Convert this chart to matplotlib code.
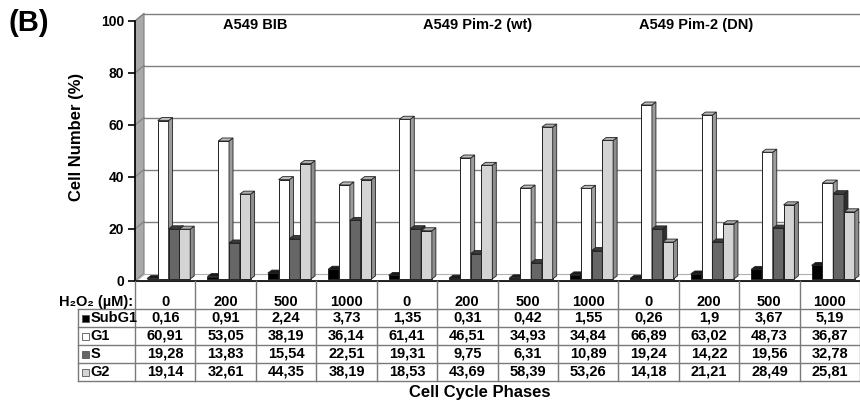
import matplotlib
matplotlib.use('Agg')
import matplotlib.pyplot as plt
from matplotlib.patches import Polygon, Rectangle

plt.rcParams['font.family'] = ['Liberation Sans', 'DejaVu Sans']
plt.rcParams['font.weight'] = 'bold'

# data
groups = ['A549 BIB', 'A549 Pim-2 (wt)', 'A549 Pim-2 (DN)']
doses = ['0', '200', '500', '1000', '0', '200', '500', '1000', '0', '200', '500', '1000']
phases = ['SubG1', 'G1', 'S', 'G2']
subg1 = [0.16, 0.91, 2.24, 3.73, 1.35, 0.31, 0.42, 1.55, 0.26, 1.9, 3.67, 5.19]
g1 = [60.91, 53.05, 38.19, 36.14, 61.41, 46.51, 34.93, 34.84, 66.89, 63.02, 48.73, 36.87]
s_phase = [19.28, 13.83, 15.54, 22.51, 19.31, 9.75, 6.31, 10.89, 19.24, 14.22, 19.56, 32.78]
g2 = [19.14, 32.61, 44.35, 38.19, 18.53, 43.69, 58.39, 53.26, 14.18, 21.21, 28.49, 25.81]
series = [subg1, g1, s_phase, g2]

front = ['#000000', '#ffffff', '#666666', '#d4d4d4']
side = ['#000000', '#9c9c9c', '#2e2e2e', '#8e8e8e']
top = ['#1a1a1a', '#bdbdbd', '#3c3c3c', '#adadad']

W, H = 860, 403
fig = plt.figure(figsize=(W / 100, H / 100), dpi=100)

x0, x1 = 135, 860      # plot area in pixels
y0, y1 = 281, 21       # value 0 and 100
ncat = len(doses)
ax = fig.add_axes([x0 / W, (H - y0) / H, (x1 - x0) / W, (y0 - y1) / H])
ax.set_xlim(0, ncat)
ax.set_ylim(0, 100)
pxx = (x1 - x0) / ncat   # pixels per category
pxy = (y0 - y1) / 100    # pixels per percent

# 3D wall depth and bar depth in data units
wdx, wdy = 9 / pxx, 7.5 / pxy
bdx, bdy = 4 / pxx, 3 / pxy

gridc = '#7f7f7f'
# left wall
ax.add_patch(Polygon([(0, 0), (wdx, wdy), (wdx, 100 + wdy), (0, 100)],
                     closed=True, fc='#a9a9a9', ec=gridc, lw=0.8, clip_on=False, zorder=1))
# floor
ax.add_patch(Polygon([(0, 0), (ncat + 1, 0), (ncat + 1, wdy), (wdx, wdy)],
                     closed=True, fc='white', ec='#b0b0b0', lw=0.8, clip_on=False, zorder=1))
for v in range(20, 101, 20):
    ax.plot([wdx, ncat + 1], [v + wdy, v + wdy], color=gridc, lw=1, clip_on=False, zorder=1)
    ax.plot([0, wdx], [v, v + wdy], color=gridc, lw=0.8, clip_on=False, zorder=1)

# bars
bw = 10.8 / pxx
start = 12 / pxx
base = 0.8
z = 3
for i in range(ncat):
    for j, vals in enumerate(series):
        bx = i + start + j * bw
        h = vals[i]
        ax.bar(bx, h, width=bw, bottom=base, align='edge', color=front[j],
               edgecolor='#222222', lw=0.7, zorder=z)
        ax.add_patch(Polygon([(bx + bw, base), (bx + bw + bdx, base + bdy),
                              (bx + bw + bdx, base + h + bdy), (bx + bw, base + h)],
                             closed=True, fc=side[j], ec='#222222', lw=0.6, zorder=z))
        ax.add_patch(Polygon([(bx, base + h), (bx + bdx, base + h + bdy),
                              (bx + bw + bdx, base + h + bdy), (bx + bw, base + h)],
                             closed=True, fc=top[j], ec='#222222', lw=0.6, zorder=z))
        z += 1

for sp in ['top', 'right']:
    ax.spines[sp].set_visible(False)
ax.spines['left'].set_zorder(50)
ax.spines['bottom'].set_zorder(50)
ax.spines['left'].set_linewidth(1.2)
ax.spines['bottom'].set_linewidth(1.2)
ax.set_xticks([])
ax.set_yticks(range(0, 101, 20))
ax.tick_params(axis='y', length=5, width=1.2, labelsize=10, pad=3)
for t in ax.get_yticklabels():
    t.set_fontweight('bold')
ax.patch.set_visible(False)

# group titles
title_x = [255, 478, 696]
for gx, name in zip(title_x, groups):
    ax.text((gx - x0) / pxx, (y0 - 25) / pxy, name, ha='center', va='center',
            fontsize=10.5, fontweight='bold')

# data table below the axis (y in pixel rows)
tax = fig.add_axes([x0 / W, (H - 381) / H, (x1 - x0) / W, 100 / H])
tax.set_xlim(0, ncat)
tax.set_ylim(381, 281)
tax.axis('off')
lab_left = (78 - x0) / pxx
rows = [309, 327, 345, 363, 381]
tc = '#7a7a7a'
for r in rows:
    tax.plot([lab_left, ncat], [r, r], color=tc, lw=1, clip_on=False)
tax.plot([lab_left, lab_left], [rows[0], rows[-1]], color=tc, lw=1, clip_on=False)
for i in range(ncat + 1):
    tax.plot([i, i], [281, 381], color=tc, lw=1, clip_on=False)

tax.text(-2 / pxx, 302, 'H\u2082O\u2082 (\u00b5M):', ha='right', va='center',
         fontsize=10.5, fontweight='bold', clip_on=False)
for i, d in enumerate(doses):
    tax.text(i + 0.5, 302, d, ha='center', va='center', fontsize=10.5, fontweight='bold')

for j, (name, vals) in enumerate(zip(phases, series)):
    cy = (rows[j] + rows[j + 1]) / 2
    tax.add_patch(Rectangle(((82 - x0) / pxx, cy - 3.5), 7 / pxx, 7,
                            fc=front[j], ec='#555555', lw=0.6, clip_on=False))
    tax.text((90.5 - x0) / pxx, cy, name, ha='left', va='center',
             fontsize=10.5, fontweight='bold', clip_on=False)
    for i, v in enumerate(vals):
        tax.text(i + 0.5, cy, str(v).replace('.', ','), ha='center', va='center',
                 fontsize=10.5, fontweight='bold')

fig.text(480 / W, 1 - 393 / H, 'Cell Cycle Phases', ha='center', va='center',
         fontsize=12, fontweight='bold')
fig.text(76 / W, 1 - 137 / H, 'Cell Number (%)', ha='center', va='center',
         rotation=90, fontsize=12, fontweight='bold')
fig.text(9 / W, 1 - 23 / H, '(B)', ha='left', va='center', fontsize=21, fontweight='bold')

fig.savefig('out.png', dpi=100)
